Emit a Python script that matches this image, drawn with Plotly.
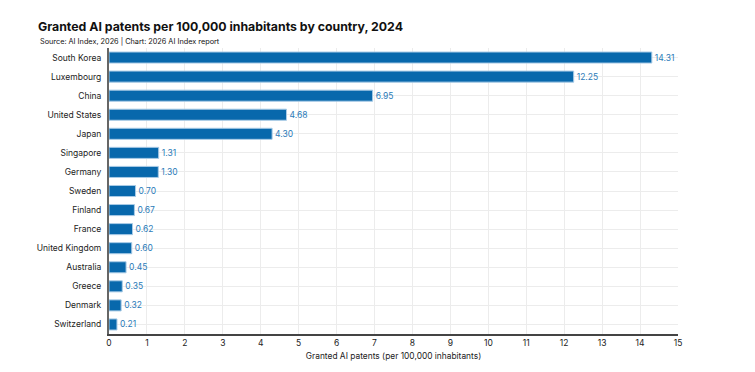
import plotly.graph_objects as go

countries = ["South Korea", "Luxembourg", "China", "United States", "Japan", "Singapore",
             "Germany", "Sweden", "Finland", "France", "United Kingdom", "Australia",
             "Greece", "Denmark", "Switzerland"]
values = [14.31, 12.25, 6.95, 4.68, 4.30, 1.31, 1.30, 0.70, 0.67, 0.62, 0.60, 0.45, 0.35, 0.32, 0.21]
x_ticks = list(range(0, 16))

FONT = "Inter, Open Sans, sans-serif"
OFF = 8  # page body margin offset
L, R, T, B = 109 - OFF, 77 + OFF, 48 - OFF, 38 + OFF
W, H = 755, 372
pw, ph = W - L - R, H - T - B

fig = go.Figure(go.Bar(
    x=values, y=countries, orientation="h",
    marker=dict(color="#0868ac", line=dict(color="#a9cbe6", width=1)),
    width=0.58,
    text=[f"{v:.2f}" for v in values], textposition="outside",
    textfont=dict(color="#2b7bb9", size=8.5, family=FONT),
    cliponaxis=False,
))

fig.update_layout(
    width=W, height=H,
    margin=dict(l=L, r=R, t=T, b=B, autoexpand=False),
    plot_bgcolor="white", paper_bgcolor="white",
    font=dict(family=FONT, color="#222", size=8.5),
    title=dict(
        text="<b>Granted AI patents per 100,000 inhabitants by country, 2024</b>",
        x=(38 - OFF)/W, xanchor="left", y=1 - (27 - OFF)/H, yanchor="middle",
        font=dict(size=12.3, color="#111", family=FONT),
    ),
    annotations=[dict(
        text="Source: AI Index, 2026 | Chart: 2026 AI Index report",
        xref="paper", yref="paper", x=(38 - OFF - L)/pw, y=(H - B - (42 - OFF))/ph,
        xanchor="left", yanchor="middle", showarrow=False,
        font=dict(size=7.3, color="#111", family=FONT),
    )],
    showlegend=False,
)
fig.update_xaxes(
    range=[0, 15], tickvals=x_ticks, showgrid=True, gridcolor="#ececec",
    showline=True, linecolor="#444", linewidth=1.5, zeroline=False,
    ticks="", tickfont=dict(size=8.5, color="#222"), automargin=False,
    title=dict(text="Granted AI patents (per 100,000 inhabitants)", font=dict(size=8.4, color="#222"), standoff=6),
)
fig.update_yaxes(
    categoryorder="array", categoryarray=countries, autorange="reversed",
    showgrid=True, gridcolor="#ececec", showline=True, linecolor="#666", linewidth=2,
    ticks="", ticklabelstandoff=4, tickfont=dict(size=8.5, color="#222"), automargin=False,
)

fig.write_html("out.html")
